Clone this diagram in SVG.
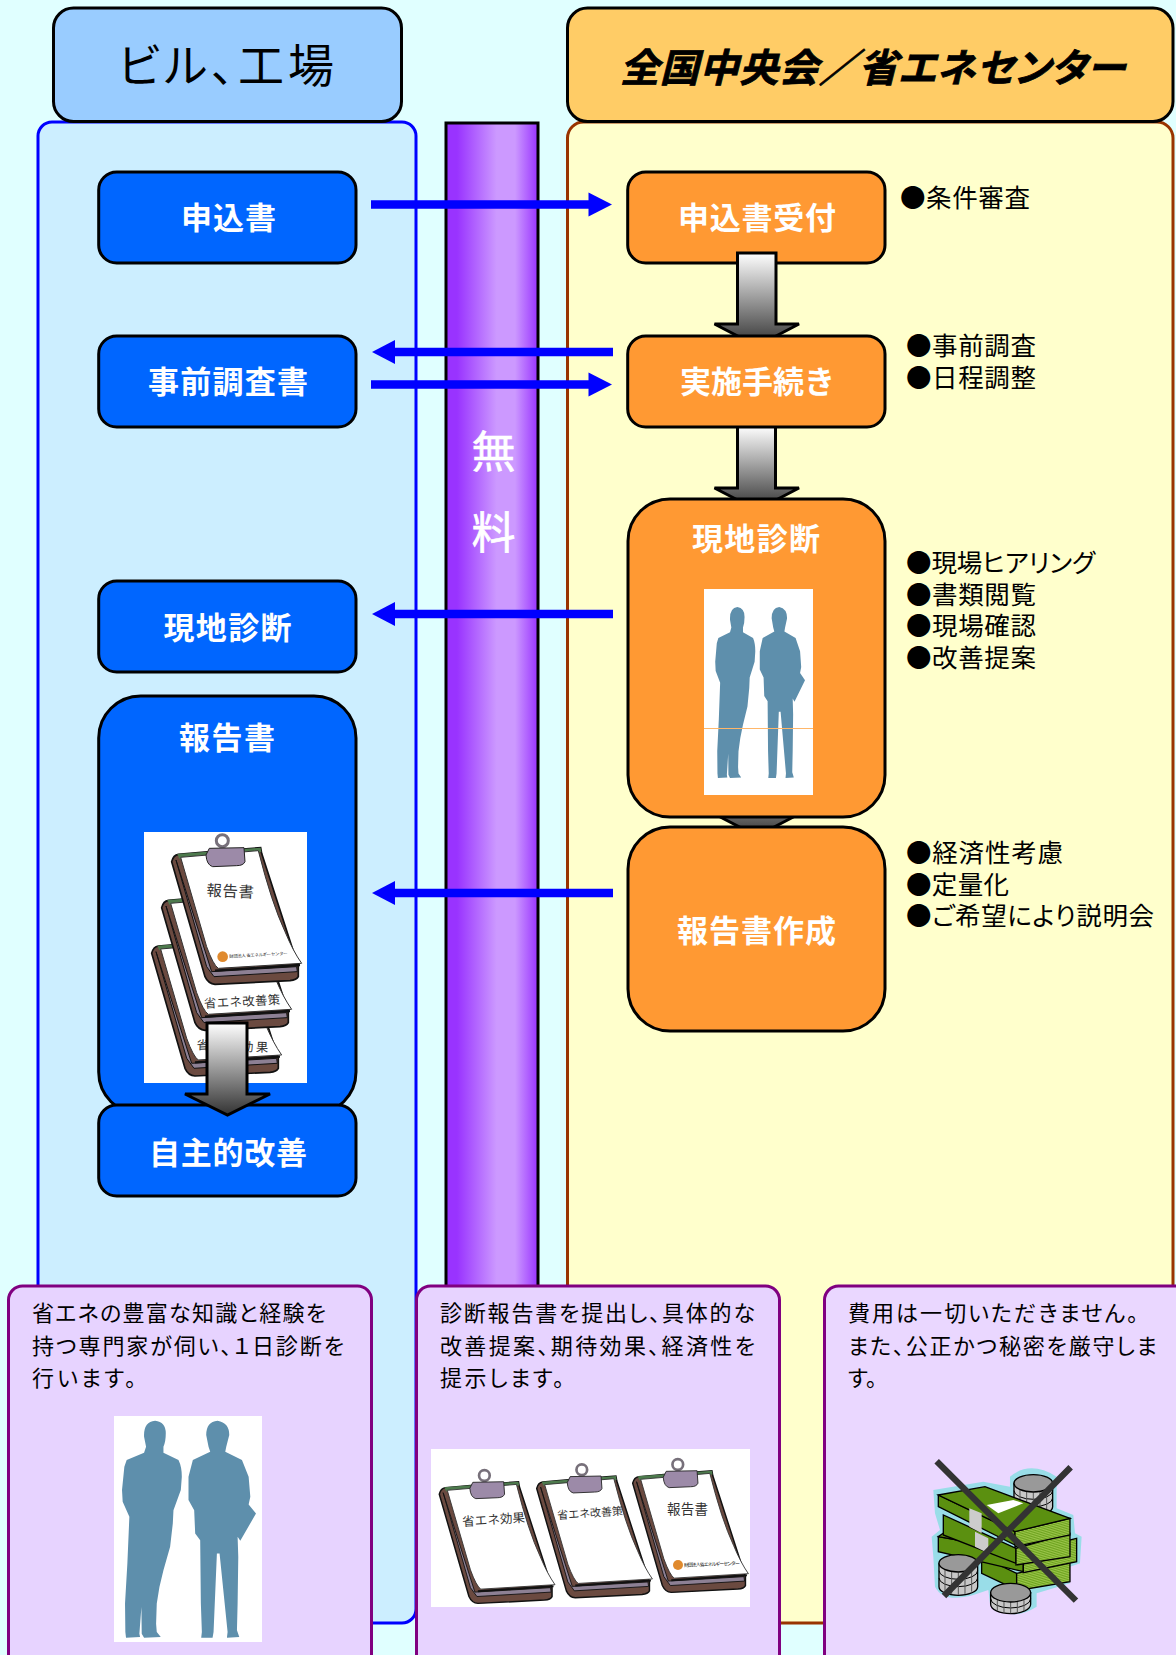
<svg xmlns="http://www.w3.org/2000/svg" xmlns:xlink="http://www.w3.org/1999/xlink" width="1176" height="1655" viewBox="0 0 1176 1655">
<style>
text{font-family:"Noto Sans CJK JP","Noto Sans",sans-serif}
.hd{stroke:#000;stroke-width:3}
.nb{fill:#0066ff;stroke:#000;stroke-width:3}
.no{fill:#ff9933;stroke:#000;stroke-width:3}
.lb{fill:#fff;font-size:31px;font-weight:700}
.nt{fill:#000;font-size:25.500px;font-feature-settings:"palt"}
.cd{fill:#e7d3ff;stroke:#800080;stroke-width:3}
.ct{fill:#000;font-size:22px;font-feature-settings:"palt"}
.ba{stroke:#0000ff;stroke-width:8.5;fill:none}
.bh{fill:#0000ff}
.blk{fill:url(#gArrow);stroke:#000;stroke-width:3}
.im{fill:#fff}
.si{fill:#5e8fac}
.ci{fill:#333}
.st{fill:url(#pStripe);stroke:#000;stroke-width:4}
.gf{fill:#5b9010;stroke:#000;stroke-width:4}
</style>
<defs>
<linearGradient id="gBar" x1="0" y1="0" x2="1" y2="0"><stop offset="0" stop-color="#9933ff"/><stop offset=".12" stop-color="#9933ff"/><stop offset=".55" stop-color="#cc99ff"/><stop offset=".75" stop-color="#cc99ff"/><stop offset="1" stop-color="#9933ff"/></linearGradient>
<linearGradient id="gArrow" x1="0" y1="0" x2="0" y2="1"><stop offset="0" stop-color="#ffffff"/><stop offset="1" stop-color="#333333"/></linearGradient>
<pattern id="pStripe" width="6" height="5" patternUnits="userSpaceOnUse" patternTransform="rotate(-13)"><rect width="6" height="5" fill="#6ea31f"/><rect width="6" height="2" fill="#a5cc55"/></pattern>
<g id="men">
<path d="M465 452Q497 455 497 490Q497 515 490 530L490 548L535 570Q545 590 545 620L542 660L520 720L518 760L510 830L490 900L478 950L470 1000L468 1060L470 1085L482 1100L432 1102L425 1090L424 1010L418 1090L420 1100L378 1102L376 1085L375 1000L382 880L388 740L368 695L366 660L373 590L380 570L432 548L438 530L432 500Q430 455 465 452Z"/>
<path d="M652 452Q687 458 687 495L678 530L675 545L725 570L745 620L750 680L745 703L767 730L720 812L712 800L714 860L712 1000L710 1080L717 1100L680 1102L682 1085L658 850L650 850L640 1085L637 1102L603 1102L605 1085L602 1000L600 810L585 790L582 720L565 690L565 620L578 570L630 545L625 530L618 495Q618 455 652 452Z"/>
</g>
<g id="clip">
<path d="M245 185Q250 165 265 163L360 155L512 143L515 160L625 500L625 530Q620 540 600 542L375 553Q355 552 345 530Z" fill="#6b4a40" stroke="#111" stroke-width="5"/>
<path d="M258 180L365 515L620 500L622 515L372 530L350 500Z" fill="#8d8094" stroke="#111" stroke-width="3"/>
<path d="M262 162L512 143L514 156L268 176Z" fill="#4d7a4d"/>
<path d="M272 172L505 152Q545 310 585 395Q610 455 635 490L385 505Q370 495 350 440Z" fill="#fff" stroke="#333" stroke-width="3"/>
<path d="M375 512L630 495" stroke="#111" stroke-width="7" fill="none"/>
<circle cx="397" cy="122" r="18" fill="none" stroke="#77707a" stroke-width="9"/>
<path d="M348 165L358 145L462 143L465 185Q460 197 440 197L368 200Q350 195 348 165Z" fill="#9c8aa8" stroke="#222" stroke-width="3"/>
</g>
<g id="coin">
<path d="M-58 0V70A58 26 0 0 0 58 70V0Z" fill="#c8c8c8" stroke="#000" stroke-width="4"/>
<path d="M-58 22A58 26 0 0 0 58 22M-58 44A58 26 0 0 0 58 44" fill="none" stroke="#000" stroke-width="3"/>
<path d="M-40 20V85M-20 26V92M0 28V95M20 26V92M40 20V85" stroke="#555" stroke-width="3" fill="none"/>
<ellipse cx="0" cy="0" rx="58" ry="26" fill="#999" stroke="#000" stroke-width="4"/>
</g>
<g id="coinlow">
<path d="M-60 0V35A60 28 0 0 0 60 35V0Z" fill="#c8c8c8" stroke="#000" stroke-width="4"/>
<path d="M-60 18A60 28 0 0 0 60 18" fill="none" stroke="#000" stroke-width="3"/>
<path d="M-40 22V55M-20 26V60M0 28V62M20 26V60M40 22V55" stroke="#555" stroke-width="3" fill="none"/>
<ellipse cx="0" cy="0" rx="60" ry="28" fill="#999" stroke="#000" stroke-width="4"/>
</g>
</defs>
<rect width="1176" height="1655" fill="#e0ffff"/>

<g id="panel-left"><rect x="38" y="122" width="378" height="1501" rx="14" fill="#cceeff" stroke="#0000ff" stroke-width="3"/></g>
<g id="panel-right"><rect x="567.5" y="122" width="605.5" height="1501" rx="16" fill="#ffffcc" stroke="#993300" stroke-width="3"/></g>
<g id="bar"><rect x="446" y="123" width="92" height="1200" fill="url(#gBar)" stroke="#000" stroke-width="3"/>
<text x="493.5" y="468" text-anchor="middle" font-size="44" fill="#fff" stroke="#fff" stroke-width=".6">無</text>
<text x="493.5" y="549" text-anchor="middle" font-size="44" fill="#fff" stroke="#fff" stroke-width=".6">料</text></g>
<g id="header-left"><rect class="hd" x="53.5" y="8" width="348" height="113.5" rx="20" fill="#99ccff"/>
<text x="118" y="82" font-size="46" textLength="216" fill="#000" style="font-feature-settings:'palt'">ビル、工場</text></g>
<g id="header-right"><rect class="hd" x="567.5" y="8" width="605.5" height="113.5" rx="20" fill="#ffcc66"/>
<text x="620" y="82" font-size="39" font-weight="700" font-style="italic" textLength="505" fill="#000" stroke="#000" stroke-width=".8" style="font-feature-settings:'palt'">全国中央会／省エネセンター</text></g>

<g id="node-moushikomi"><rect class="nb" x="98.7" y="172" width="257.3" height="91" rx="18"/><text class="lb" x="181" y="229" textLength="95">申込書</text></g>
<g id="node-jizen"><rect class="nb" x="98.7" y="336" width="257.3" height="91" rx="18"/><text class="lb" x="148" y="393" textLength="160">事前調査書</text></g>
<g id="node-genchi-l"><rect class="nb" x="98.7" y="581" width="257.3" height="91" rx="18"/><text class="lb" x="163.500" y="639" textLength="128">現地診断</text></g>
<g id="node-houkoku"><rect class="nb" x="98.7" y="696" width="257.3" height="418" rx="42"/><text class="lb" x="179" y="749" textLength="96">報告書</text>
<rect class="im" x="144" y="832" width="163" height="251"/>
<g transform="translate(90 800) scale(.3333)">
<use xlink:href="#clip" href="#clip" transform="translate(-60 275)"/>
<text class="ci" x="320" y="752" font-size="37" textLength="215" transform="rotate(2 430 740)">省エネ効果</text>
<use xlink:href="#clip" href="#clip" transform="translate(-30 138)"/>
<text class="ci" x="342" y="618" font-size="37" textLength="228" transform="rotate(-3 455 600)">省エネ改善策</text>
<use xlink:href="#clip" href="#clip"/>
<text class="ci" x="350" y="290" font-size="46" textLength="142" transform="rotate(3 420 272)">報告書</text>
<circle cx="398" cy="470" r="16" fill="#e08a2e"/>
<text x="418" y="474" font-size="13" textLength="175" fill="#222" transform="rotate(-3 418 474)">財団法人 省エネルギーセンター</text>
</g></g>
<g id="node-jishu"><rect class="nb" x="98.7" y="1105" width="257.3" height="91" rx="18"/><text class="lb" x="149" y="1164" textLength="158">自主的改善</text></g>
<g id="node-uketsuke"><rect class="no" x="627.7" y="172" width="257.3" height="91" rx="18"/><text class="lb" x="678" y="229" textLength="158">申込書受付</text></g>

<g id="connectors">
<path class="ba" d="M371 204.500H590"/><path class="bh" d="M612 204.500L588.500 192.500V216.500Z"/>
<path class="ba" d="M393 352H613"/><path class="bh" d="M372 352L395 340V364Z"/>
<path class="ba" d="M371 384.500H590"/><path class="bh" d="M612 384.500L588.500 372.500V396.500Z"/>
<path class="ba" d="M393 614H613"/><path class="bh" d="M372 614L395 602V626Z"/>
<path class="ba" d="M393 893H613"/><path class="bh" d="M372 893L395 881V905Z"/>
<path class="blk" d="M737.500 253H776V324H799L757 346L714.500 324H737.500Z"/>
<path class="blk" d="M737.500 426H775.500V488H799L757 510L714.500 488H737.500Z"/>
<path class="blk" d="M737.500 760H775.500V814H799L757 836L714.500 814H737.500Z"/>
<path class="blk" d="M207 1023H247V1094H270L227.500 1115L185 1094H207Z"/>
</g>

<g id="node-jisshi"><rect class="no" x="627.7" y="336" width="257.3" height="91" rx="18"/><text class="lb" x="680" y="393" textLength="155">実施手続き</text></g>
<g id="node-genchi-r"><rect class="no" x="628" y="499" width="257" height="318" rx="42"/><text class="lb" x="692" y="550" textLength="128">現地診断</text>
<rect class="im" x="704" y="589" width="109" height="206"/>
<svg x="715" y="607" width="90" height="171" viewBox="365 452 402 650" preserveAspectRatio="none"><use xlink:href="#men" href="#men" class="si"/></svg>
<path d="M704 728.500H813" stroke="#ffb76a" stroke-width="1"/></g>
<g id="node-sakusei"><rect class="no" x="628" y="827" width="257" height="204" rx="42"/><text class="lb" x="677" y="942" textLength="159">報告書作成</text></g>

<g id="notes">
<text class="nt" x="900" y="207" textLength="130">●条件審査</text>
<text class="nt" x="906" y="355" textLength="130">●事前調査</text>
<text class="nt" x="906" y="387" textLength="130">●日程調整</text>
<text class="nt" x="906" y="572" textLength="189">●現場ヒアリング</text>
<text class="nt" x="906" y="604" textLength="130">●書類閲覧</text>
<text class="nt" x="906" y="635" textLength="130">●現場確認</text>
<text class="nt" x="906" y="667" textLength="130">●改善提案</text>
<text class="nt" x="906" y="862" textLength="157">●経済性考慮</text>
<text class="nt" x="906" y="894" textLength="103">●定量化</text>
<text class="nt" x="906" y="925" textLength="248">●ご希望により説明会</text>
</g>

<g id="card-1"><rect class="cd" x="8.500" y="1286" width="363" height="385" rx="14"/>
<text class="ct" x="32" y="1321" textLength="294">省エネの豊富な知識と経験を</text>
<text class="ct" x="32" y="1354" textLength="312">持つ専門家が伺い、１日診断を</text>
<text class="ct" x="32" y="1386" textLength="104">行います。</text>
<rect class="im" x="114" y="1416" width="148" height="226"/>
<svg x="114" y="1416" width="148" height="226" viewBox="342 438 443 677" preserveAspectRatio="none"><use xlink:href="#men" href="#men" class="si"/></svg></g>

<g id="card-2"><rect class="cd" x="416.500" y="1286" width="363" height="385" rx="14"/>
<text class="ct" x="440" y="1321" textLength="315">診断報告書を提出し、具体的な</text>
<text class="ct" x="440" y="1354" textLength="315">改善提案、期待効果、経済性を</text>
<text class="ct" x="440" y="1386" textLength="124">提示します。</text>
<rect class="im" x="431" y="1449" width="319" height="158"/>
<g transform="translate(366.600 1439.300) scale(.2967)"><use xlink:href="#clip" href="#clip"/></g>
<g transform="translate(464 1433.600) scale(.2967)"><use xlink:href="#clip" href="#clip"/></g>
<g transform="translate(560 1428.300) scale(.2967)"><use xlink:href="#clip" href="#clip"/></g>
<text class="ci" x="462" y="1524" font-size="12.500" textLength="63" transform="rotate(-4 494 1518)">省エネ効果</text>
<text class="ci" x="557" y="1517" font-size="11" textLength="66" transform="rotate(-4 590 1512)">省エネ改善策</text>
<text class="ci" x="667" y="1514" font-size="13.500" textLength="41">報告書</text>
<circle cx="678" cy="1565" r="5" fill="#e08a2e"/>
<text x="684" y="1567" font-size="5" textLength="56" fill="#222" transform="rotate(-2 684 1567)">財団法人 省エネルギーセンター</text></g>

<g id="card-3"><rect class="cd" x="824.500" y="1286" width="400" height="385" rx="14" style="fill:#ead7ff"/>
<text class="ct" x="848" y="1321" textLength="290">費用は一切いただきません。</text>
<text class="ct" x="848" y="1354" textLength="309">また、公正かつ秘密を厳守しま</text>
<text class="ct" x="848" y="1386">す。</text>
<g transform="translate(810 1270) scale(.3333)">
<path d="M370 660L520 635L600 650V620Q660 570 740 620V715L790 735L795 790L815 800L810 880L780 890V940L680 970V1010Q600 1060 540 1000L535 960L490 975Q400 1000 375 950L370 860L365 800L390 780L375 730Z" fill="#99dde8"/>
<use xlink:href="#coin" href="#coin" transform="translate(670 640)"/>
<path class="gf" d="M515 860V910L620 960V910Z"/>
<path class="st" d="M620 910L780 875V935L620 962Z"/>
<path class="gf" d="M385 800L640 845L640 905L385 845Z"/>
<path class="st" d="M640 845L800 805V875L640 908Z"/>
<path class="gf" d="M385 800L400 790L620 835L640 845Z"/>
<path class="gf" d="M400 735V795L618 880V835Z"/>
<path class="st" d="M618 835L780 790V860L618 885Z"/>
<path class="gf" d="M385 675V710L615 825V785Z"/>
<path class="st" d="M615 785L780 745V795L615 830Z"/>
<path class="gf" d="M385 675L525 650L780 745L615 785Z"/>
<path d="M478 715L515 730V790L478 770Z" fill="#ccc"/>
<path d="M495 785L535 805V850L495 830Z" fill="#ccc"/>
<path d="M530 705L610 690L640 700L565 730Z" fill="#fff"/>
<use xlink:href="#coin" href="#coin" transform="translate(445 880)"/>
<use xlink:href="#coinlow" href="#coinlow" transform="translate(602 968)"/>
<path d="M380 574L798 992M782 592L402 978" stroke="#333" stroke-width="19" fill="none"/>
</g></g>
</svg>
